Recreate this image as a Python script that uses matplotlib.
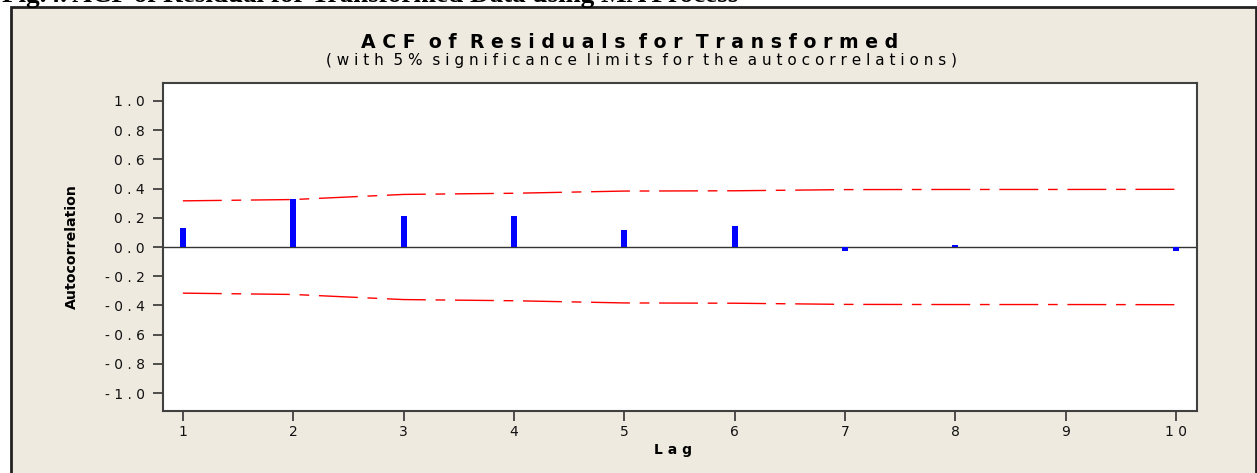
import numpy as np
import matplotlib
matplotlib.use('Agg')
import matplotlib.pyplot as plt
from matplotlib.patches import Rectangle

# values
lags = [1, 2, 3, 4, 5, 6, 7, 8, 9, 10]
acf = [0.13, 0.33, 0.212, 0.21, 0.116, 0.144, -0.03, 0.015, 0.003, -0.03]
upper_limit = [0.316, 0.325, 0.36, 0.368, 0.383, 0.385, 0.393, 0.394, 0.394, 0.395]
lower_limit = [-v for v in upper_limit]

ytick_vals = [1.0, 0.8, 0.6, 0.4, 0.2, 0.0, -0.2, -0.4, -0.6, -0.8, -1.0]
ytick_labels = ['1 . 0', '0 . 8', '0 . 6', '0 . 4', '0 . 2', '0 . 0',
                '- 0 . 2', '- 0 . 4', '- 0 . 6', '- 0 . 8', '- 1 . 0']
xtick_labels = ['1', '2', '3', '4', '5', '6', '7', '8', '9', '1 0']

caption = 'Fig.4. ACF of Residual for Transformed Data using MA Process'
title = 'A C F  o f  R e s i d u a l s  f o r  T r a n s f o r m e d'
subtitle = '( w i t h  5 %  s i g n i f i c a n c e  l i m i t s  f o r  t h e  a u t o c o r r e l a t i o n s )'

W, H = 1257, 473
fig = plt.figure(figsize=(W / 100, H / 100), dpi=100, facecolor='white')

# beige Minitab panel with border
panel = Rectangle((11 / W, -0.05), (1256 - 11) / W, 1 - 7 / H + 0.05,
                  transform=fig.transFigure, facecolor='#EEEAE0',
                  edgecolor='#222222', lw=2, zorder=-10)
fig.patches.append(panel)

# caption of the document, cut off at the top
fig.text(2 / W, 1 - 2 / H, caption, ha='left', va='baseline',
         fontsize=19.5, fontweight='bold', family='Liberation Serif', zorder=-5)

ax = fig.add_axes([163 / W, 1 - 411 / H, (1197 - 163) / W, (411 - 83) / H])
ax.set_zorder(5)
ax.set_facecolor('white')

ax.bar(lags, acf, width=0.055, color='#0000FF', zorder=3)
ax.axhline(0, color='#333333', lw=1, zorder=2)
ax.plot(lags, upper_limit, color='red', lw=1, linestyle=(0, (28, 7, 7, 7)))
ax.plot(lags, lower_limit, color='red', lw=1, linestyle=(0, (28, 7, 7, 7)))

ax.set_xlim(0.82, 10.19)
ax.set_ylim(-1.123, 1.123)
ax.set_xticks(lags)
ax.set_xticklabels(xtick_labels)
ax.set_yticks(ytick_vals)
ax.set_yticklabels(ytick_labels)
ax.tick_params(axis='both', direction='out', length=7, width=1.2,
               color='#333333', labelsize=10, labelcolor='#111111')
ax.tick_params(axis='y', pad=6)
ax.tick_params(axis='x', pad=3)
for s in ax.spines.values():
    s.set_color('#404040')
    s.set_linewidth(1.5)

fig.text(630 / W, 1 - 42 / H, title, ha='center', va='center',
         fontsize=13.6, fontweight='bold')
fig.text(642 / W, 1 - 61 / H, subtitle, ha='center', va='center',
         fontsize=11)
fig.text(72 / W, 1 - 247 / H, 'Autocorrelation', rotation=90,
         ha='center', va='center', fontsize=10.2, fontweight='bold')
fig.text(673 / W, 1 - 450 / H, 'L a g', ha='center', va='center',
         fontsize=10, fontweight='bold')

fig.savefig('out.png', dpi=100, facecolor=fig.get_facecolor())
